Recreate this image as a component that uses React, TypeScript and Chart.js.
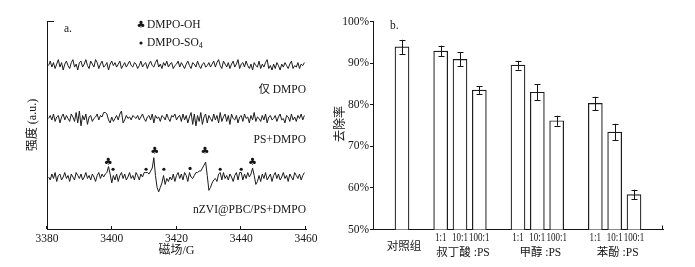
import React, { useEffect, useRef } from 'react';
import { Chart, registerables } from 'chart.js';

Chart.register(...registerables);

const FONT = '"Liberation Serif", "Noto Sans CJK SC", serif';
const INK = '#151515';

// ---------- Panel a : EPR spectra ----------
const FIELD_MIN = 3380;
const FIELD_MAX = 3460;
const FIELD_STEP_TICK = 20;
const FIELD_START = 3380.5;
const FIELD_STEP = 0.5;
const INTENSITY_MAX = 140;
const TRACE_NAMES = ['仅 DMPO', 'PS+DMPO', 'nZVI@PBC/PS+DMPO'];
const TRACE_OFFSETS = [110, 74.4, 35];
const TRACE_LABEL_LEVEL = [93.5, 59.9, 12.8];

const TRACE_DMPO = [
  0, 3, -1, 2, -2, 1, 4, -1, 2, -3, 1, 3, 0, -2, 2, 4, -1, 1, -3, 2,
  3, -1, 1, 4, 0, -2, 3, 1, -1, 4, 2, -2, 1, 3, -1, 0, 2, -3, 1, 3,
  0, 2, -1, 1, 3, -2, 0, 2, -1, 1, 3, 0, -1, 2, 1, -2, 0, 3, -1, 1,
  2, -2, 1, 3, 0, -1, 2, 4, -1, 1, -2, 2, 0, 3, -1, 1, 2, -2, 0, 1,
  3, -1, 2, 0, -2, 1, 3, 0, -2, 2, 1, -1, 3, 0, -2, 1, 2, -1, 0, 2,
  -1, 1, 3, -1, 2, 4, 0, -2, 3, 1, -1, 2, -2, 1, 3, -1, 1, 4, -2, 1,
  2, -1, 3, 0, -2, 1, -3, 2, 0, -1, 3, -2, 1, -1, 2, 4, -2, 0, -3, 1,
  -2, 2, 0, -3, 1, -1, 2, 0, -2, 1, 3, -2, 0, -1, 2, -2, 1, 0, 2,
];
const TRACE_PS = [
  0, 2, -1, 3, -2, 1, 2, -3, 1, 3, -1, 2, 0, -2, 3, 1, -2, 4, -3, 5,
  -5, 2, -1, 3, -4, 1, 2, -2, 0, 1, 3, -1, 2, 1, 4, 4, 3, -1, -3, 1,
  -2, 0, 2, -1, 3, 5, -3, -1, 2, 0, 1, -1, 2, 1, 0, 2, -1, 1, 3, 0,
  -2, 1, 2, -1, 3, -3, 2, 0, 1, -2, 2, 1, -1, 3, 0, -2, 2, 1, 3, -1,
  1, 2, -2, 3, -1, 2, -3, 1, 4, -4, 3, -5, 2, -2, 4, -4, 1, 3, -3, 2,
  0, -2, 3, -1, 2, -3, 4, -2, 1, 3, -2, 2, -4, 3, 0, -1, 2, -3, 1, 2,
  -2, 3, 0, 1, -3, 2, -1, 4, -2, 1, 0, -2, 2, -1, 3, -3, 1, 2, -1, 0,
  2, -2, 1, 3, -1, 0, -3, 2, 1, -2, 3, -1, 1, -2, 2, 0, 3, -1, 2,
];
const TRACE_NZVI = [
  0, -2, 2, -1, 3, -3, 1, 2, -2, 0, 3, -1, 1, -3, 2, 0, -2, 3, 1, -1,
  2, -2, 0, 3, -1, 1, -2, 2, 0, -3, 1, 3, -1, 2, 0, 2, 3, 7, 2, -4,
  1, -2, 2, -3, 1, 3, -1, 2, -2, 0, 3, -1, 1, -2, 3, 1, -2, 2, 0, 3,
  3, 3, 2, 4, 6, 13, 1, -7, -10, -7, -4, 1, -5, -1, -3, 0, -2, 2, -3, 1,
  3, -1, 2, -2, 3, 1, -3, 3, 0, -1, 1, 3, 3, 4, 4, 6, 8, 10, 1, -9,
  -7, -4, -2, -1, -3, 2, 3, -2, 3, -1, 1, -2, 2, 0, -3, 1, 3, -2, 3, 3,
  -2, 2, -1, 3, 0, 2, 6, 1, -5, -3, 1, -3, 2, -1, 3, -2, 0, 2, -3, 1,
  3, -1, 2, -2, 0, 3, -1, 1, -3, 2, 0, -2, 3, 1, -1, 2, -2, 1, 3,
];
const TRACES = [TRACE_DMPO, TRACE_PS, TRACE_NZVI];

const OH_FIELDS = [3398.9, 3413.3, 3428.8, 3443.5];
const OH_LEVELS = [44.6, 52, 52, 44.6];
const SO4_FIELDS = [3400.4, 3410.6, 3416.1, 3424.2, 3433.5, 3440.0];
const SO4_LEVELS = [40.2, 40.2, 40.2, 40.8, 40.2, 40.2];

// ---------- Panel b : removal rates ----------
const SLOT_LABELS = ['', '', '', '1:1', '10:1', '100:1', '', '1:1', '10:1', '100:1', '', '1:1', '10:1', '100:1', ''];
const REMOVAL = [null, 93.9, null, 92.9, 90.9, 83.5, null, 89.5, 83.0, 76.15, null, 80.3, 73.4, 58.4, null];
const REMOVAL_ERR = [null, 1.7, null, 1.3, 1.7, 0.9, null, 1.05, 1.9, 1.2, null, 1.6, 2.0, 1.15, null];
const GROUP_LABELS = ['对照组', '叔丁酸 :PS', '甲醇 :PS', '苯酚 :PS'];
const GROUP_SLOTS = [1, 4, 8, 12];
const Y_MIN = 50;
const Y_MAX = 100;
const Y_STEP = 10;

function fnt(size: number) {
  return `${size}px ${FONT}`;
}

const panelAPlugin = {
  id: 'panelA',
  afterDraw(chart: any) {
    const ctx = chart.ctx;
    const xs = chart.scales.x;
    const ys = chart.scales.y;
    const area = chart.chartArea;
    ctx.save();
    ctx.strokeStyle = INK;
    ctx.fillStyle = INK;
    ctx.lineWidth = 1;
    // inward x ticks
    xs.ticks.forEach((t: any) => {
      const px = Math.round(xs.getPixelForValue(t.value)) - 0.5;
      ctx.beginPath();
      ctx.moveTo(px, area.bottom);
      ctx.lineTo(px, area.bottom - 3);
      ctx.stroke();
    });
    // top cap of y axis
    ctx.beginPath();
    ctx.moveTo(area.left, Math.round(area.top) + 0.5);
    ctx.lineTo(area.left + 7, Math.round(area.top) + 0.5);
    ctx.stroke();

    // markers
    ctx.font = '10px "DejaVu Sans"';
    ctx.textAlign = 'center';
    ctx.textBaseline = 'middle';
    OH_FIELDS.forEach((f, i) => {
      ctx.fillText('♣', xs.getPixelForValue(f), ys.getPixelForValue(OH_LEVELS[i]));
    });
    SO4_FIELDS.forEach((f, i) => {
      ctx.beginPath();
      ctx.arc(xs.getPixelForValue(f), ys.getPixelForValue(SO4_LEVELS[i]), 1.6, 0, Math.PI * 2);
      ctx.fill();
    });

    // trace names
    ctx.font = fnt(11.5);
    ctx.textAlign = 'right';
    TRACE_NAMES.forEach((n, i) => {
      ctx.fillText(n, xs.getPixelForValue(FIELD_MAX), ys.getPixelForValue(TRACE_LABEL_LEVEL[i]));
    });

    // legend
    ctx.textAlign = 'center';
    ctx.font = '10px "DejaVu Sans"';
    ctx.fillText('♣', 141, 25);
    ctx.beginPath();
    ctx.arc(141, 43, 1.6, 0, Math.PI * 2);
    ctx.fill();
    ctx.textAlign = 'left';
    ctx.font = fnt(11.5);
    ctx.fillText('DMPO-OH', 147, 25);
    ctx.fillText('DMPO-SO', 147, 43);
    const w = ctx.measureText('DMPO-SO').width;
    ctx.font = fnt(8);
    ctx.fillText('4', 147 + w, 46);

    // panel letter
    ctx.font = fnt(11.5);
    ctx.fillText('a.', 64, 29);

    // axis titles
    ctx.textAlign = 'center';
    ctx.font = fnt(12);
    ctx.fillText('磁场/G', (area.left + area.right) / 2, 251);
    ctx.translate(33, 125);
    ctx.rotate(-Math.PI / 2);
    ctx.fillText('强度 (a.u.)', 0, 0);
    ctx.restore();
  },
};

const panelBPlugin = {
  id: 'panelB',
  afterDatasetsDraw(chart: any) {
    const ctx = chart.ctx;
    const xs = chart.scales.x;
    const ys = chart.scales.y;
    const area = chart.chartArea;
    const meta = chart.getDatasetMeta(0);
    ctx.save();
    ctx.strokeStyle = INK;
    ctx.lineWidth = 1;
    REMOVAL.forEach((v, i) => {
      const e = REMOVAL_ERR[i];
      if (v == null || e == null) return;
      const el = meta.data[i];
      const x = Math.round(el.x) + 0.5;
      const y1 = ys.getPixelForValue(v + e);
      const y2 = ys.getPixelForValue(v - e);
      ctx.beginPath();
      ctx.moveTo(x, y1);
      ctx.lineTo(x, y2);
      ctx.moveTo(x - 3, Math.round(y1) + 0.5);
      ctx.lineTo(x + 3, Math.round(y1) + 0.5);
      ctx.moveTo(x - 3, Math.round(y2) + 0.5);
      ctx.lineTo(x + 3, Math.round(y2) + 0.5);
      ctx.stroke();
    });
    // end tick of x axis
    ctx.beginPath();
    ctx.moveTo(Math.round(area.right) - 0.5, area.bottom);
    ctx.lineTo(Math.round(area.right) - 0.5, area.bottom - 4);
    ctx.stroke();

    ctx.fillStyle = INK;
    ctx.textAlign = 'center';
    ctx.textBaseline = 'middle';
    // ratio labels (condensed type, as in the original)
    ctx.font = fnt(12.5);
    SLOT_LABELS.forEach((lab, i) => {
      if (!lab) return;
      const x = xs.getPixelForValue(i);
      ctx.save();
      ctx.translate(x, 237.5);
      ctx.scale(0.72, 1);
      ctx.fillText(lab, 0, 0);
      ctx.restore();
    });
    // group labels
    ctx.font = fnt(11.5);
    GROUP_LABELS.forEach((g, i) => {
      const x = xs.getPixelForValue(GROUP_SLOTS[i]);
      ctx.fillText(g, x + (i === 0 ? 2 : 3), i === 0 ? 247 : 253);
    });
    // panel letter
    ctx.textAlign = 'left';
    ctx.fillText('b.', 60, 26);
    // y title
    ctx.font = fnt(12);
    ctx.textAlign = 'center';
    ctx.translate(11, 124);
    ctx.rotate(-Math.PI / 2);
    ctx.fillText('去除率', 0, 0);
    ctx.restore();
  },
};

function PanelA() {
  const ref = useRef<HTMLCanvasElement | null>(null);
  useEffect(() => {
    if (!ref.current) return;
    const datasets = TRACES.map((tr, k) => ({
      label: TRACE_NAMES[k],
      data: tr.map((v, i) => ({ x: FIELD_START + i * FIELD_STEP, y: TRACE_OFFSETS[k] + v })),
      borderColor: '#1c1c1c',
      borderWidth: 1,
      pointRadius: 0,
      tension: 0,
      fill: false,
    }));
    const chart = new Chart(ref.current, {
      type: 'line',
      data: { datasets },
      options: {
        animation: false,
        responsive: false,
        maintainAspectRatio: false,
        layout: { padding: { left: 0, top: 21, right: 24, bottom: 0 } },
        plugins: { legend: { display: false }, tooltip: { enabled: false } },
        scales: {
          x: {
            type: 'linear',
            min: FIELD_MIN,
            max: FIELD_MAX,
            grid: { display: false, drawTicks: false },
            border: { display: true, color: INK, width: 1 },
            ticks: {
              stepSize: FIELD_STEP_TICK,
              color: INK,
              font: { family: FONT, size: 11.5 },
              padding: 3,
              maxRotation: 0,
              callback: (v: any) => String(v),
            },
            afterFit: (s: any) => { s.height = 38; },
          },
          y: {
            type: 'linear',
            min: 0,
            max: INTENSITY_MAX,
            grid: { display: false, drawTicks: false },
            border: { display: true, color: INK, width: 1 },
            ticks: { display: false },
            afterFit: (s: any) => { s.width = 47; },
          },
        },
      } as any,
      plugins: [panelAPlugin],
    });
    return () => chart.destroy();
  }, []);
  return <canvas ref={ref} width={330} height={267} style={{ position: 'absolute', left: 0, top: 0 }} />;
}

function PanelB() {
  const ref = useRef<HTMLCanvasElement | null>(null);
  useEffect(() => {
    if (!ref.current) return;
    const chart = new Chart(ref.current, {
      type: 'bar',
      data: {
        labels: SLOT_LABELS,
        datasets: [
          {
            data: REMOVAL,
            backgroundColor: '#ffffff',
            borderColor: '#1c1c1c',
            borderWidth: 1.2,
            barThickness: 14,
          },
        ],
      },
      options: {
        animation: false,
        responsive: false,
        maintainAspectRatio: false,
        layout: { padding: { left: 0, top: 21.5, right: 32, bottom: 0 } },
        plugins: { legend: { display: false }, tooltip: { enabled: false } },
        scales: {
          x: {
            type: 'category',
            offset: true,
            grid: { display: false, drawTicks: false },
            border: { display: true, color: INK, width: 1 },
            ticks: { display: false },
            afterFit: (s: any) => { s.height = 37.5; },
          },
          y: {
            type: 'linear',
            min: Y_MIN,
            max: Y_MAX,
            grid: { display: true, drawOnChartArea: false, drawTicks: true, tickLength: 3, color: INK },
            border: { display: true, color: INK, width: 1 },
            ticks: { stepSize: Y_STEP, color: INK, font: { family: FONT, size: 11.5 }, padding: 1, callback: (v: any) => `${v}%` },
            afterFit: (s: any) => { s.width = 43; },
          },
        },
      } as any,
      plugins: [panelBPlugin],
    });
    return () => chart.destroy();
  }, []);
  return <canvas ref={ref} width={365} height={267} style={{ position: 'absolute', left: 330, top: 0 }} />;
}

export default function App() {
  return (
    <div style={{ position: 'absolute', left: 0, top: 0, width: 695, height: 267, background: '#ffffff', overflow: 'hidden' }}>
      <PanelA />
      <PanelB />
    </div>
  );
}
